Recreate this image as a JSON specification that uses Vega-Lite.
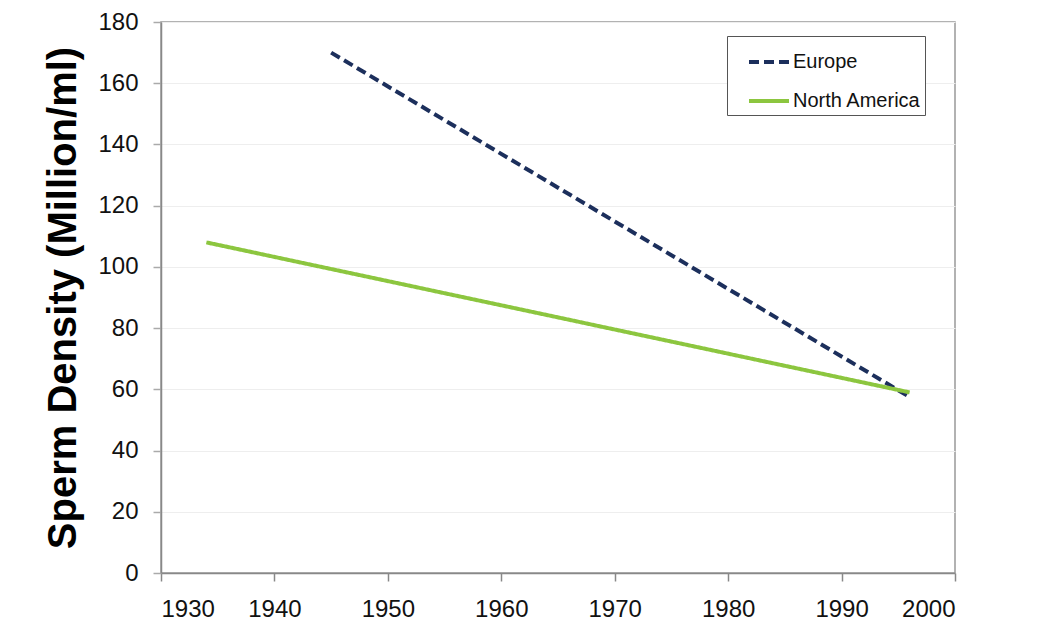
{
  "$schema": "https://vega.github.io/schema/vega-lite/v6.json",
  "width": 794,
  "height": 551,
  "autosize": {"type": "none"},
  "padding": {"left": 161, "top": 22, "right": 85, "bottom": 53},
  "background": "white",
  "config": {
    "font": "Liberation Sans",
    "view": {"stroke": "#999999", "strokeWidth": 1.5}
  },
  "data": {
    "values": [
      {"year": 1945, "density": 170, "region": "Europe"},
      {"year": 1996, "density": 57.5, "region": "Europe"},
      {"year": 1934, "density": 108, "region": "North America"},
      {"year": 1996, "density": 59, "region": "North America"}
    ]
  },
  "mark": {"type": "line", "strokeWidth": 4},
  "encoding": {
    "x": {
      "field": "year",
      "type": "quantitative",
      "scale": {"domain": [1930, 2000], "nice": false, "zero": false},
      "axis": {
        "title": null,
        "values": [1930, 1940, 1950, 1960, 1970, 1980, 1990, 2000],
        "format": "d",
        "grid": false,
        "labelFont": "Liberation Sans",
        "labelFontSize": 24,
        "labelColor": "#111111",
        "labelPadding": 16,
        "domainColor": "#888888",
        "domainWidth": 1.5,
        "tickColor": "#888888",
        "tickSize": 8,
        "tickWidth": 1.5
      }
    },
    "y": {
      "field": "density",
      "type": "quantitative",
      "scale": {"domain": [0, 180], "nice": false},
      "axis": {
        "title": "Sperm Density (Million/ml)",
        "titleFont": "Liberation Sans",
        "titleFontSize": 40,
        "titleFontWeight": "bold",
        "titleColor": "#000000",
        "titlePadding": 14,
        "values": [0, 20, 40, 60, 80, 100, 120, 140, 160, 180],
        "labelFont": "Liberation Sans",
        "labelFontSize": 24,
        "labelColor": "#111111",
        "labelPadding": 15,
        "gridColor": "#eeeeee",
        "gridWidth": 1,
        "domainColor": "#888888",
        "domainWidth": 1.5,
        "tickColor": "#aaaaaa",
        "tickSize": 8,
        "tickWidth": 1.5
      }
    },
    "color": {
      "field": "region",
      "type": "nominal",
      "scale": {"domain": ["Europe", "North America"], "range": ["#1c2f5c", "#8cc63f"]},
      "legend": {
        "title": null,
        "orient": "none",
        "legendX": 566,
        "legendY": 14,
        "symbolType": "stroke",
        "symbolStrokeWidth": 4,
        "symbolSize": 1600,
        "symbolOffset": 16,
        "labelFontSize": 20,
        "labelColor": "#111111",
        "labelOffset": 2,
        "rowPadding": 7,
        "strokeColor": "#555555",
        "padding": 4,
        "fillColor": "white"
      }
    },
    "strokeDash": {
      "field": "region",
      "type": "nominal",
      "scale": {"domain": ["Europe", "North America"], "range": [[10, 5], [1, 0]]},
      "legend": {
        "title": null,
        "orient": "none",
        "legendX": 566,
        "legendY": 14,
        "symbolType": "stroke",
        "symbolStrokeWidth": 4,
        "symbolSize": 1600,
        "symbolOffset": 16,
        "labelFontSize": 20,
        "labelColor": "#111111",
        "labelOffset": 2,
        "rowPadding": 7,
        "strokeColor": "#555555",
        "padding": 4,
        "fillColor": "white"
      }
    }
  }
}
